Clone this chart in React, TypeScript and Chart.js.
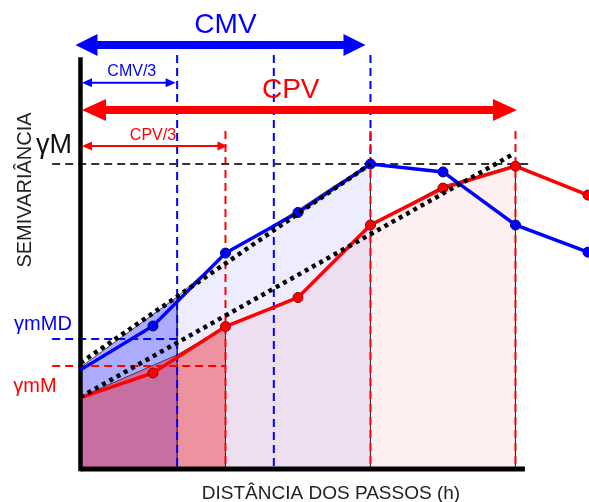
import React, { useEffect, useRef } from "react";
import { Chart, registerables } from "chart.js";

Chart.register(...registerables);

// ---- data (lag units h, semivariance units) ----
const LAGS = [0, 1, 2, 3, 4, 5, 6, 7];
const GAMMA_BLUE = [3.25, 4.69, 7.08, 8.41, 10.0, 9.74, 8.0, 7.11];
const GAMMA_RED = [2.34, 3.15, 4.67, 5.62, 8.0, 9.21, 9.93, 8.98];
const MODEL_BLUE_H = [0, 1.333, 2, 3, 3.5, 4];
const MODEL_BLUE_G = [3.34, 5.64, 7.05, 8.49, 9.28, 10.0];
const MODEL_RED_H = [0, 1.333, 2, 3, 4, 5, 6];
const MODEL_RED_G = [2.36, 3.74, 4.66, 5.67, 8.0, 9.28, 9.97];
const FIT_BLUE_H = [0, 4];
const FIT_BLUE_G = [3.48, 10.0];
const FIT_RED_H = [0, 5.95];
const FIT_RED_G = [2.36, 10.3];
const CMV = 4;
const CPV = 6;
const GAMMA_M = 10;
const GAMMA_MMD = 4.26;
const GAMMA_MM = 3.38;

// ---- layout ----
const X_MIN = -1.11;
const X_MAX = 7.014;
const Y_MIN = -1.082;
const Y_MAX = 15.377;
const FONT = "'Liberation Sans', Arial, sans-serif";
const BLUE = "#0000ff";
const RED = "#ff0000";

const pts = (hs: number[], gs: number[]) => hs.map((h, i) => ({ x: h, y: gs[i] }));

function region(hs: number[], gs: number[], a: number, b: number) {
  const p = pts(hs, gs).filter((q) => q.x >= a - 0.01 && q.x <= b + 0.01);
  p.push({ x: b, y: 0 });
  return p;
}

const overlayPlugin = {
  id: "overlay",
  afterDatasetsDraw(chart: any) {
    const ctx = chart.ctx;
    const X = (v: number) => chart.scales.x.getPixelForValue(v);
    const Y = (v: number) => chart.scales.y.getPixelForValue(v);

    const arrow = (x1: number, x2: number, y: number, shaft: number, hl: number, hh: number, color: string) => {
      ctx.save();
      ctx.fillStyle = color;
      ctx.beginPath();
      ctx.moveTo(x1, y);
      ctx.lineTo(x1 + hl, y - hh);
      ctx.lineTo(x1 + hl, y - shaft / 2);
      ctx.lineTo(x2 - hl, y - shaft / 2);
      ctx.lineTo(x2 - hl, y - hh);
      ctx.lineTo(x2, y);
      ctx.lineTo(x2 - hl, y + hh);
      ctx.lineTo(x2 - hl, y + shaft / 2);
      ctx.lineTo(x1 + hl, y + shaft / 2);
      ctx.lineTo(x1 + hl, y + hh);
      ctx.closePath();
      ctx.fill();
      ctx.restore();
    };

    arrow(X(0) - 5, X(CMV) - 5, Y(13.9), 8, 22, 11, BLUE);
    arrow(X(0) + 1.5, X(CMV / 3) - 1.5, Y(12.66), 2, 10, 4.5, BLUE);
    arrow(X(0) + 1.5, X(CPV) + 1.5, Y(11.77), 8, 24, 11, RED);
    arrow(X(0) + 1.5, X(CPV / 3) + 2, Y(10.59), 2, 10, 4.5, RED);

    const text = (s: string, x: number, y: number, size: number, color: string) => {
      ctx.save();
      ctx.font = `${size}px ${FONT}`;
      ctx.fillStyle = color;
      ctx.textAlign = "center";
      ctx.textBaseline = "alphabetic";
      ctx.fillText(s, x, y);
      ctx.restore();
    };

    text("CMV", X(CMV / 2), 33, 28, BLUE);
    text("CMV/3", X(CMV / 6) + 3, 76, 16, BLUE);
    text("CPV", X(2.9), 98, 28, RED);
    text("CPV/3", X(CPV / 6), 140, 16, RED);
    text("γM", 54, 153, 27, "#111");
    text("γmMD", 43, 330, 20, BLUE);
    text("γmM", 35, 391.5, 20, RED);
    text("DISTÂNCIA DOS PASSOS (h)", 331, 499, 19, "#222");

    ctx.save();
    ctx.translate(31, 190);
    ctx.rotate(-Math.PI / 2);
    ctx.font = `20px ${FONT}`;
    ctx.fillStyle = "#222";
    ctx.textAlign = "center";
    ctx.textBaseline = "alphabetic";
    ctx.fillText("SEMIVARIÂNCIA", 0, 0);
    ctx.restore();
  },
};

export default function App() {
  const ref = useRef<HTMLCanvasElement | null>(null);

  useEffect(() => {
    if (!ref.current) return;

    const fillDs = (data: any[], color: string, order: number) => ({
      data,
      fill: "origin",
      backgroundColor: color,
      borderColor: "rgba(50,50,50,0.9)",
      borderWidth: 1,
      pointRadius: 0,
      tension: 0,
      order,
    });
    const dash = (data: any[], color: string, order: number) => ({
      data,
      borderColor: color,
      borderWidth: 2,
      borderDash: [8, 5],
      pointRadius: 0,
      fill: false,
      order,
    });
    const solid = (data: any[], width: number, order: number) => ({
      data,
      borderColor: "#000",
      borderWidth: width,
      pointRadius: 0,
      fill: false,
      order,
    });
    const series = (gs: number[], color: string, border: string, order: number) => ({
      data: pts(LAGS, gs),
      borderColor: color,
      borderWidth: 3.5,
      backgroundColor: color,
      pointBackgroundColor: color,
      pointBorderColor: border,
      pointBorderWidth: 1,
      pointRadius: LAGS.map((h) => (h === 0 ? 0 : 5)),
      fill: false,
      tension: 0,
      order,
    });
    const dotted = (hs: number[], gs: number[]) => ({
      data: pts(hs, gs),
      borderColor: "#000",
      borderWidth: 4.5,
      borderDash: [4, 4.3],
      borderCapStyle: "butt",
      pointRadius: 0,
      fill: false,
      order: 5,
    });

    const xLeft = -0.39;
    const blueTop = 13.57;
    const redTop = 11.08;

    const chart = new Chart(ref.current, {
      type: "line",
      data: {
        datasets: [
          fillDs(region(MODEL_BLUE_H, MODEL_BLUE_G, 0, CMV / 3), "rgba(0,0,255,0.33)", 95),
          fillDs(region(MODEL_BLUE_H, MODEL_BLUE_G, CMV / 3, CMV), "rgba(0,0,255,0.07)", 94),
          fillDs(region(MODEL_RED_H, MODEL_RED_G, 0, CPV / 3), "rgba(235,35,45,0.45)", 93),
          fillDs(region(MODEL_RED_H, MODEL_RED_G, CPV / 3, CPV), "rgba(235,35,45,0.07)", 92),
          dash([{ x: CMV / 3, y: blueTop }, { x: CMV / 3, y: 0 }], BLUE, 81),
          dash([{ x: (2 * CMV) / 3, y: blueTop }, { x: (2 * CMV) / 3, y: 0 }], BLUE, 81),
          dash([{ x: CMV, y: blueTop }, { x: CMV, y: GAMMA_M }], BLUE, 81),
          dash([{ x: CPV / 3, y: redTop }, { x: CPV / 3, y: 0 }], RED, 80),
          dash([{ x: (2 * CPV) / 3, y: redTop }, { x: (2 * CPV) / 3, y: 0 }], RED, 80),
          dash([{ x: CPV, y: redTop }, { x: CPV, y: 0 }], RED, 80),
          dash([{ x: xLeft, y: GAMMA_M }, { x: 6.24, y: GAMMA_M }], "#333", 79),
          dash([{ x: xLeft, y: GAMMA_MMD }, { x: CMV / 3, y: GAMMA_MMD }], BLUE, 79),
          dash([{ x: xLeft, y: GAMMA_MM }, { x: CPV / 3, y: GAMMA_MM }], RED, 79),
          solid([{ x: 0, y: -0.07 }, { x: 0, y: 13.5 }], 4.5, 70),
          solid([{ x: 0, y: 0 }, { x: 6.13, y: 0 }], 5, 70),
          series(GAMMA_RED, RED, "#8a0000", 20),
          series(GAMMA_BLUE, BLUE, "#000070", 19),
          dotted(FIT_BLUE_H, FIT_BLUE_G),
          dotted(FIT_RED_H, FIT_RED_G),
        ] as any,
      },
      options: {
        animation: false,
        responsive: false,
        events: [],
        layout: { padding: 0, autoPadding: false },
        scales: {
          x: { type: "linear", min: X_MIN, max: X_MAX, display: false },
          y: { type: "linear", min: Y_MIN, max: Y_MAX, display: false },
        },
        plugins: {
          legend: { display: false },
          tooltip: { enabled: false },
          title: { display: false },
        },
      } as any,
      plugins: [overlayPlugin],
    });

    return () => chart.destroy();
  }, []);

  return (
    <div style={{ position: "fixed", left: 0, top: 0, width: 589, height: 502, background: "#fff" }}>
      <canvas ref={ref} width={589} height={502} style={{ display: "block" }} />
    </div>
  );
}
